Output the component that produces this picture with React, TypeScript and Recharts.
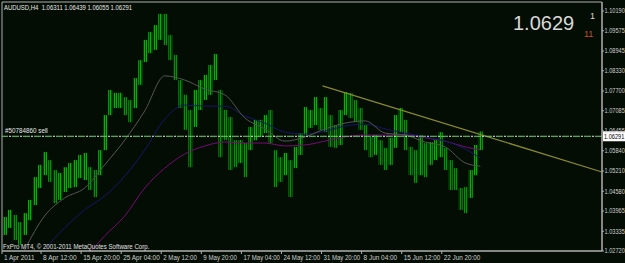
import React from 'react'
import {
  ComposedChart,
  Bar,
  Cell,
  Line,
  XAxis,
  YAxis,
  ReferenceLine,
  ReferenceArea,
} from 'recharts'

// AUDUSD H4, every column groups ~5 H4 bars (high / low of the group)
const highs = [
  1.0378, 1.04, 1.0384, 1.0362, 1.039, 1.0431, 1.0502, 1.054, 1.058, 1.0555,
  1.0524, 1.0515, 1.0533, 1.0546, 1.0555, 1.0571, 1.0577, 1.0533, 1.0524, 1.0586,
  1.0695, 1.0773, 1.0764, 1.0764, 1.0751, 1.0742, 1.081, 1.0866, 1.0929, 1.0954,
  1.0975, 1.101, 1.101, 1.0944, 1.0882, 1.0804, 1.0758, 1.0711, 1.0773, 1.0804,
  1.082, 1.0851, 1.0885, 1.0773, 1.0711, 1.0689, 1.0617, 1.0617, 1.0608, 1.0658,
  1.068, 1.068, 1.0695, 1.0711, 1.0586, 1.0564, 1.0577, 1.0555, 1.0596, 1.0639,
  1.072, 1.0711, 1.0751, 1.0717, 1.0751, 1.0695, 1.0664, 1.0711, 1.0767, 1.0764,
  1.0742, 1.0717, 1.0664, 1.0627, 1.0633, 1.0617, 1.0593, 1.0624, 1.0695, 1.0717,
  1.068, 1.0596, 1.0586, 1.0633, 1.0608, 1.0611, 1.0617, 1.0642, 1.0593, 1.0555,
  1.053, 1.0468, 1.0471, 1.0524, 1.0602, 1.0644,
]
const lows = [
  1.0322, 1.0344, 1.0306, 1.0291, 1.0322, 1.0368, 1.0415, 1.0468, 1.0508, 1.0487,
  1.0421, 1.0431, 1.0456, 1.0468, 1.0471, 1.0499, 1.0493, 1.0462, 1.044, 1.0508,
  1.0586, 1.0695, 1.0717, 1.0717, 1.0695, 1.0673, 1.0717, 1.0789, 1.086, 1.0888,
  1.0898, 1.0929, 1.0913, 1.0866, 1.0804, 1.0717, 1.0649, 1.0533, 1.0658, 1.0711,
  1.0742, 1.0758, 1.0804, 1.0564, 1.0617, 1.0524, 1.0533, 1.0546, 1.0502, 1.0586,
  1.0617, 1.0627, 1.0639, 1.0608, 1.0471, 1.0487, 1.0508, 1.044, 1.053, 1.0571,
  1.0633, 1.0655, 1.0664, 1.0649, 1.0642, 1.0596, 1.0593, 1.0602, 1.0695, 1.0686,
  1.0673, 1.0649, 1.0586, 1.0564, 1.0571, 1.054, 1.0524, 1.054, 1.0593, 1.0642,
  1.0586, 1.0508, 1.0484, 1.0508, 1.0502, 1.054, 1.0555, 1.0564, 1.0524, 1.0462,
  1.0462, 1.04, 1.039, 1.0437, 1.0508, 1.0586,
]

// moving averages, read at every 4th column
const maIdx = [0, 4, 8, 12, 16, 20, 24, 28, 32, 36, 40, 44, 48, 52, 56, 60, 64, 68, 72, 76, 80, 84, 88, 92, 95]
const maFast = [
  null, 1.0275, 1.0381, 1.0437, 1.0468, 1.054, 1.0617, 1.0708, 1.0817, 1.0804, 1.0776, 1.0758,
  1.0686, 1.0652, 1.0614, 1.0627, 1.0652, 1.067, 1.0677, 1.0639, 1.0633, 1.0611, 1.0596, 1.0546, 1.0536,
]
const maMid = [
  null, null, 1.0278, 1.0344, 1.04, 1.0443, 1.0505, 1.0586, 1.0683, 1.0726, 1.0723, 1.0723,
  1.0692, 1.067, 1.0642, 1.0636, 1.0645, 1.0661, 1.0667, 1.0652, 1.0639, 1.0627, 1.0614, 1.0589, 1.0561,
]
const maSlow = [
  null, null, null, null, 1.025, 1.0319, 1.0381, 1.0468, 1.053, 1.0574, 1.0599, 1.0611,
  1.0608, 1.0608, 1.0599, 1.0602, 1.0614, 1.0627, 1.0633, 1.0633, 1.0633, 1.0624, 1.0614, 1.0596, 1.0586,
]

const timeTicks = [0, 39, 79, 119, 159, 199, 239, 279, 319, 359, 399, 439]
const timeLabels = [
  '1 Apr 2011', '8 Apr 12:00', '15 Apr 20:00', '25 Apr 04:00', '2 May 12:00', '9 May 20:00',
  '17 May 04:00', '24 May 12:00', '31 May 20:00', '8 Jun 04:00', '15 Jun 12:00', '22 Jun 20:00',
]
const priceTicks = [
  1.1019, 1.09575, 1.08945, 1.0833, 1.077, 1.07085, 1.06455, 1.0584, 1.0521, 1.0458,
  1.03965, 1.03335, 1.0272,
]

const trendX = [320, 599]
const trendY = [1.0786, 1.0518]
const orderPrice = 1.06291

const BG = '#040d04'
const AXIS = '#b0b0b0'
const TEXT = '#cfcfcf'
const FONT = '"Liberation Sans", Arial, sans-serif'
const STEP = 5
const Y_DOMAIN: [number, number] = [1.0272, 1.1047]
const CH = 3.05 // px per character of MT4's small font

const rows = highs.map((h, i) => {
  const row: any = {
    t: i * STEP + STEP / 2,
    range: [lows[i], h],
    up: i === 0 || h + lows[i] >= highs[i - 1] + lows[i - 1],
  }
  const k = maIdx.indexOf(i)
  if (k >= 0) {
    if (maFast[k] != null) row.fast = maFast[k]
    if (maMid[k] != null) row.mid = maMid[k]
    if (maSlow[k] != null) row.slow = maSlow[k]
  }
  return row
})

function Small({ x, y, fill, children, ch = CH }: any) {
  const s = String(children)
  return (
    <text
      x={x}
      y={y}
      fontSize={6.6}
      fill={fill}
      textLength={s.length * ch}
      lengthAdjust="spacingAndGlyphs"
      xmlSpace="preserve"
    >
      {s}
    </text>
  )
}

function PriceTick({ x, y, payload }: any) {
  return (
    <g fontFamily={FONT}>
      <line x1={x} x2={x + 2} y1={y} y2={y} stroke={AXIS} />
      <Small x={x + 2.5} y={y + 2.4} fill={TEXT} ch={2.9}>
        {payload.value.toFixed(5)}
      </Small>
    </g>
  )
}

function TimeTick({ x, y, payload }: any) {
  const i = timeTicks.indexOf(payload.value)
  return (
    <g fontFamily={FONT}>
      <line x1={x} x2={x} y1={y} y2={y + 3} stroke={AXIS} />
      <Small x={x + 2} y={y + 9} fill={TEXT}>
        {timeLabels[i]}
      </Small>
    </g>
  )
}

function OrderLabel({ viewBox }: any) {
  const { x, y, width } = viewBox
  return (
    <g fontFamily={FONT}>
      <Small x={x + 3} y={y - 3} fill="#e8e8e8">
        #50784860 sell
      </Small>
      <rect x={x + width + 1} y={y - 5} width={24} height={10} fill="#ffffff" />
      <Small x={x + width + 2} y={y + 2.5} fill="#000" ch={2.9}>
        {orderPrice.toFixed(5)}
      </Small>
    </g>
  )
}

export default function App() {
  return (
    <div style={{ position: 'absolute', left: 0, top: 0, width: 625, height: 263, background: BG }}>
      <ComposedChart
        width={625}
        height={263}
        data={rows}
        margin={{ top: 2, right: 0, bottom: 0, left: 2 }}
      >
        <defs>
          <pattern id="barUp" width="2" height="4" patternUnits="userSpaceOnUse">
            <rect width="1" height="4" fill="#00b400" />
            <rect x="1" width="1" height="4" fill="#064006" />
          </pattern>
          <pattern id="barDn" width="2" height="4" patternUnits="userSpaceOnUse">
            <rect width="1" height="4" fill="#009400" />
            <rect x="1" width="1" height="4" fill="#053605" />
          </pattern>
        </defs>
        <XAxis
          dataKey="t"
          type="number"
          domain={[0, 599]}
          allowDataOverflow
          ticks={timeTicks}
          interval={0}
          tick={<TimeTick />}
          tickLine={false}
          tickSize={0}
          tickMargin={0}
          height={12}
          axisLine={{ stroke: AXIS }}
        />
        <YAxis
          orientation="right"
          type="number"
          domain={Y_DOMAIN}
          allowDataOverflow
          ticks={priceTicks}
          interval={0}
          tick={<PriceTick />}
          tickLine={false}
          tickSize={0}
          tickMargin={0}
          width={23}
          axisLine={{ stroke: AXIS }}
        />
        <ReferenceArea
          x1={0}
          x2={599}
          y1={Y_DOMAIN[0]}
          y2={Y_DOMAIN[1]}
          fill="none"
          stroke={AXIS}
          ifOverflow="visible"
        />
        <Bar dataKey="range" barSize={4} isAnimationActive={false}>
          {rows.map((r, i) => (
            <Cell key={i} fill={r.up ? 'url(#barUp)' : 'url(#barDn)'} />
          ))}
        </Bar>
        <Line dataKey="slow" type="monotone" stroke="#780a78" strokeWidth={1} dot={false} connectNulls isAnimationActive={false} />
        <Line dataKey="mid" type="monotone" stroke="#16166a" strokeWidth={1} dot={false} connectNulls isAnimationActive={false} />
        <Line dataKey="fast" type="monotone" stroke="#555555" strokeWidth={1} dot={false} connectNulls isAnimationActive={false} />
        <ReferenceLine
          segment={[
            { x: trendX[0], y: trendY[0] },
            { x: trendX[1], y: trendY[1] },
          ]}
          stroke="#8a8a2a"
          strokeWidth={1.2}
          ifOverflow="visible"
        />
        <ReferenceLine y={orderPrice} stroke="#6fd06f" strokeDasharray="7 4" label={<OrderLabel />} />
        <ReferenceLine y={orderPrice} stroke="#f0f0f0" strokeDasharray="0 8 2 1" />
      </ComposedChart>
      <svg
        width={625}
        height={263}
        style={{ position: 'absolute', left: 0, top: 0, pointerEvents: 'none' }}
        fontFamily={FONT}
      >
        <Small x={4} y={10} fill="#e8e8e8">
          AUDUSD,H4  1.06311 1.06439 1.06055 1.06291
        </Small>
        <text x={513} y={30} fontSize={20} fill="#d8d8d8">
          1.0629
        </text>
        <text x={590} y={19} fontSize={9} fill="#d8d8d8">
          1
        </text>
        <text x={584} y={37} fontSize={9} fill="#c8501e">
          11
        </text>
        <Small x={3} y={249} fill="#e0e0e0">
          FxPro MT4, © 2001-2011 MetaQuotes Software Corp.
        </Small>
      </svg>
    </div>
  )
}
